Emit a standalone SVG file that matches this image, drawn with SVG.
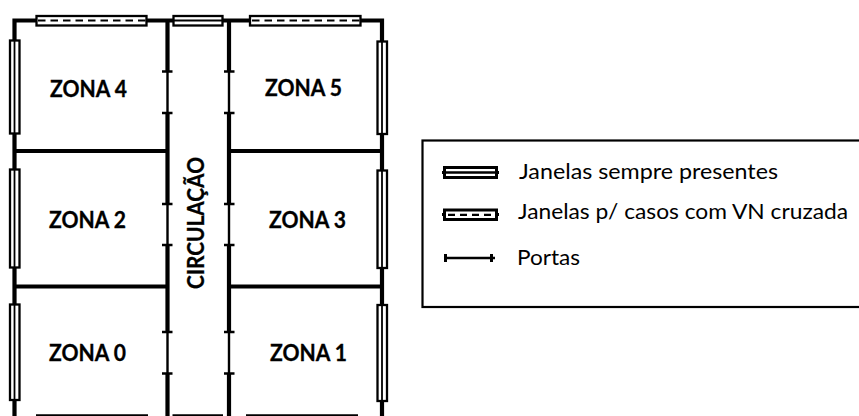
<svg xmlns="http://www.w3.org/2000/svg" width="859" height="416" viewBox="0 0 859 416">
<style>
.wall{fill:none;stroke:#000;stroke-width:4.2}
.inner{fill:none;stroke:#000;stroke-width:3.8}
.door{fill:none;stroke:#000;stroke-width:2.400}
.tick{fill:none;stroke:#000;stroke-width:2.600}
.win{fill:#fff;stroke:#000;stroke-width:2.300}
.mid{fill:none;stroke:#000;stroke-width:1.800}
.dash{fill:none;stroke:#000;stroke-width:2.200;stroke-dasharray:7.5 5}
.zone{font-family:Lato,"Liberation Sans",sans-serif;font-weight:700;font-size:22px;fill:#000;stroke:#000;stroke-width:.3}
.leg{font-family:Lato,"Liberation Sans",sans-serif;font-size:22px;fill:#000}
</style>
<rect width="859" height="416" fill="#fff"/>
<g id="connectors">
<path class="wall" d="M14.500 416V20.500H382V416"/>
<path class="inner" d="M14.500 151H167.500M229 151H382M14.500 286.500H167.500M229 286.500H382"/>
<path class="wall" d="M167.500 20.500V71.500M167.500 113V204M167.500 245V332M167.500 373.500V416M229 20.500V71.500M229 113V204M229 245V332M229 373.500V416"/>
<path class="door" d="M167.500 71.500V113M167.500 204V245M167.500 332V373.500M229 71.500V113M229 204V245M229 332V373.500"/>
<path class="tick" d="M162 71.500H172.500M162 113H172.500M162 204H172.500M162 245H172.500M162 332H172.500M162 373.500H172.500M224 71.500H234.500M224 113H234.500M224 204H234.500M224 245H234.500M224 332H234.500M224 373.500H234.500"/>
</g>
<g id="windows-left">
<rect class="win" x="10" y="40.500" width="9.500" height="93"/><path class="mid" d="M14.500 40.500V133.500"/>
<rect class="win" x="10" y="169.500" width="9.500" height="98"/><path class="mid" d="M14.500 169.500V267.500"/>
<rect class="win" x="10" y="304.500" width="9.500" height="95.500"/><path class="mid" d="M14.500 304.500V400"/>
</g>
<g id="windows-right">
<rect class="win" x="377.500" y="41.500" width="9.500" height="92.500"/><path class="mid" d="M382 41.500V134"/>
<rect class="win" x="377.500" y="170.500" width="9.500" height="97.500"/><path class="mid" d="M382 170.500V268"/>
<rect class="win" x="377.500" y="305" width="9.500" height="96"/><path class="mid" d="M382 305V401"/>
</g>
<g id="windows-top">
<rect class="win" x="36.500" y="16" width="110" height="9.500"/><path class="dash" d="M38 20.500H146"/>
<rect class="win" x="173.500" y="16" width="49" height="9.500"/><path class="mid" d="M173.500 20.500H222.500"/>
<rect class="win" x="250" y="16" width="110.500" height="9.500"/><path class="dash" d="M252 20.500H360"/>
</g>
<g id="windows-bottom">
<path class="tick" d="M36 415.500H148M172.500 415.500H223M246 415.500H358"/>
</g>
<g id="zona-4"><text class="zone" x="50" y="97" textLength="77" lengthAdjust="spacingAndGlyphs">ZONA 4</text></g>
<g id="zona-5"><text class="zone" x="265" y="96" textLength="77" lengthAdjust="spacingAndGlyphs">ZONA 5</text></g>
<g id="zona-2"><text class="zone" x="49" y="228" textLength="77" lengthAdjust="spacingAndGlyphs">ZONA 2</text></g>
<g id="zona-3"><text class="zone" x="269" y="228" textLength="77" lengthAdjust="spacingAndGlyphs">ZONA 3</text></g>
<g id="zona-0"><text class="zone" x="49" y="361" textLength="77" lengthAdjust="spacingAndGlyphs">ZONA 0</text></g>
<g id="zona-1"><text class="zone" x="270" y="361" textLength="77" lengthAdjust="spacingAndGlyphs">ZONA 1</text></g>
<g id="circulacao"><text class="zone" transform="translate(203.500 289) rotate(-90)" textLength="132" lengthAdjust="spacingAndGlyphs">CIRCULAÇÃO</text></g>
<g id="legend">
<rect x="422.500" y="140.500" width="440" height="166.500" fill="#fff" stroke="#000" stroke-width="2.200"/>
<path class="wall" d="M442 172.500H499" style="stroke-width:3"/>
<rect x="444.500" y="167.500" width="52" height="10" fill="#fff" stroke="#000" stroke-width="3"/><path class="door" d="M444.500 172.500H496.500"/>
<text class="leg" x="519" y="179" textLength="259" lengthAdjust="spacingAndGlyphs">Janelas sempre presentes</text>
<path class="wall" d="M442 214.500H499" style="stroke-width:3"/>
<rect x="444.500" y="210" width="52" height="9.500" fill="#fff" stroke="#000" stroke-width="3"/><path class="dash" d="M448 214.800H496" style="stroke-dasharray:7 5"/>
<text class="leg" x="518" y="219" textLength="330" lengthAdjust="spacingAndGlyphs">Janelas p/ casos com VN cruzada</text>
<path class="door" d="M445 258H495"/><path class="wall" d="M445.500 254V262M491.500 254V262" style="stroke-width:3"/>
<text class="leg" x="517" y="264.500" textLength="63" lengthAdjust="spacingAndGlyphs">Portas</text>
</g>
</svg>
